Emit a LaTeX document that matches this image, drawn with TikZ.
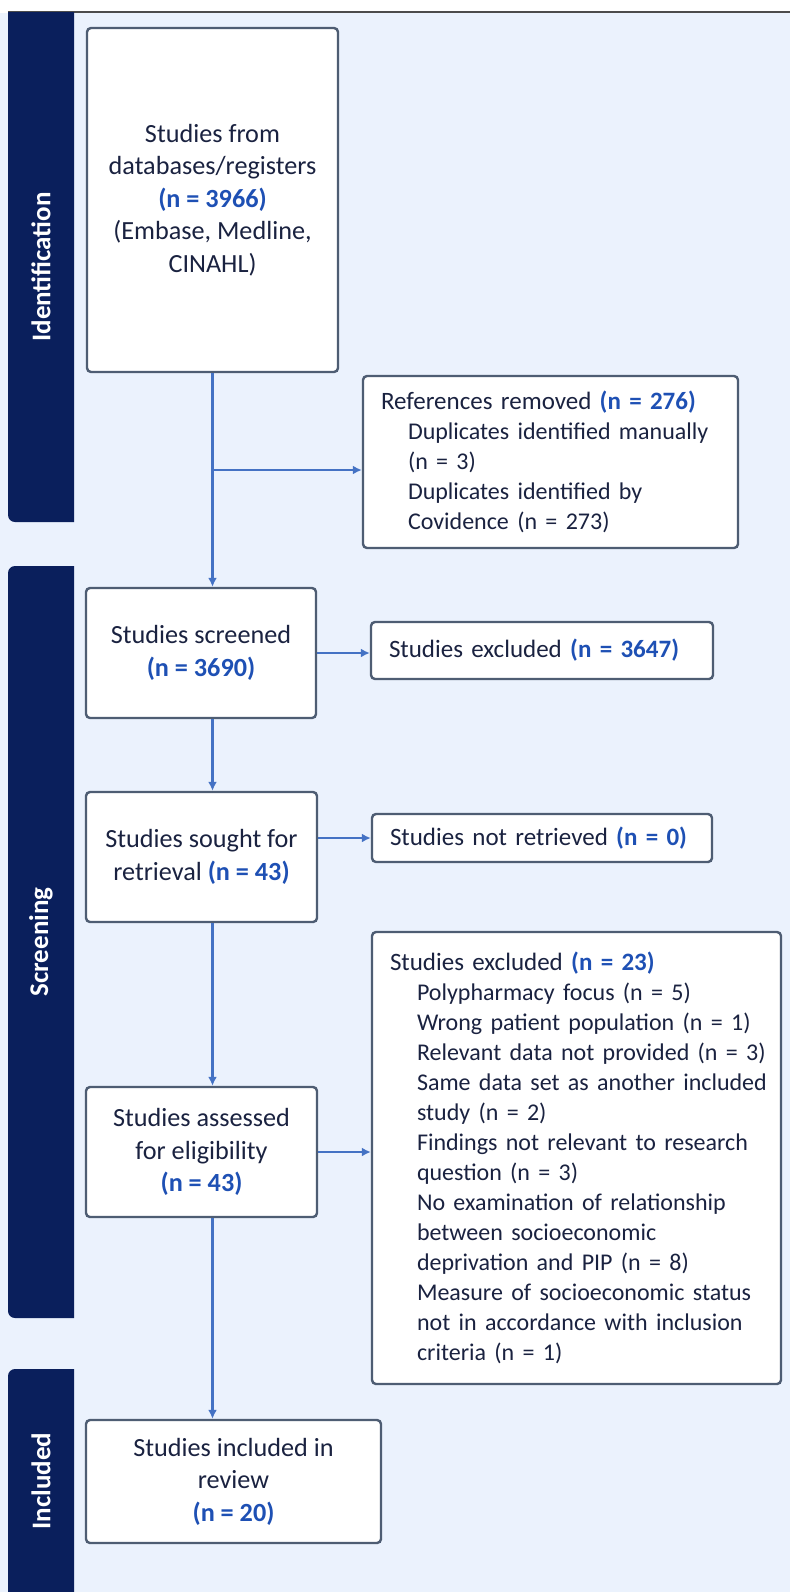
\documentclass[tikz,border=0pt]{standalone}
\usepackage{fontspec}
\setmainfont{Carlito}
\usetikzlibrary{arrows.meta}
\definecolor{barnavy}{RGB}{10,31,92}
\definecolor{bgblue}{RGB}{235,242,253}
\definecolor{boxline}{RGB}{78,93,115}
\definecolor{arrowblue}{RGB}{68,114,196}
\definecolor{numblue}{RGB}{30,80,180}
\definecolor{txtnavy}{RGB}{26,34,64}
\newcommand{\nval}[1]{\textbf{\textcolor{numblue}{#1}}}
\newcommand{\ind}[1]{\hspace*{27pt}\mbox{\fontsize{24}{30}\selectfont #1}}

\begin{document}
\begin{tikzpicture}[x=1pt,y=-1pt,
    box/.style={draw=boxline, fill=white, line width=2.4pt, rounded corners=4pt, text=txtnavy,
      inner sep=0pt, align=center, font=\fontsize{26.2}{32.5}\selectfont},
    listbox/.style={box, align=left, inner xsep=18pt, font=\fontsize{25}{30}\selectfont},
    arr/.style={draw=arrowblue, line width=2.4pt, -{Latex[length=9pt,width=9pt]}},
    stage/.style={text=white, font=\fontsize{27}{30}\selectfont\bfseries, rotate=90}]
  \useasboundingbox (0,0) rectangle (790,1592);
  \fill[white] (0,0) rectangle (790,1592);
  \fill[bgblue] (0,13) rectangle (790,1592);
  \draw[line width=2pt, black!70] (8,12) -- (790,12);
  % stage bars
  \begin{scope}
    \clip (0,13) rectangle (74,1592);
    \fill[barnavy, rounded corners=7pt] (8,0) rectangle (90,522);
    \fill[barnavy, rounded corners=7pt] (8,566) rectangle (90,1318);
    \fill[barnavy, rounded corners=7pt] (8,1369) rectangle (90,1620);
  \end{scope}
  \node[stage] (lblid) at (41,267) {Identification};
  \node[stage] (lblscr) at (41,942) {Screening};
  \node[stage] (lblinc) at (41,1481) {Included};
  % boxes
  \node[box, minimum width=251pt, minimum height=344pt] (src) at (212.5,200)
    {Studies from\\databases/registers\\\nval{(n = 3966)}\\(Embase, Medline,\\CINAHL)};
  \node[listbox, text width=339pt, minimum height=172pt] (rem) at (550.5,462)
    {References removed \nval{(n = 276)}\\
     \ind{Duplicates identified manually}\\
     \ind{(n = 3)}\\
     \ind{Duplicates identified by}\\
     \ind{Covidence (n = 273)}};
  \node[listbox, text width=306pt, minimum height=57pt] (exa) at (542,650.5)
    {Studies excluded \nval{(n = 3647)}};
  \node[box, minimum width=230pt, minimum height=130pt] (scr) at (201,653)
    {Studies screened\\\nval{(n = 3690)}};
  \node[box, minimum width=231pt, minimum height=130pt] (sought) at (201.5,857)
    {Studies sought for\\retrieval \nval{(n = 43)}};
  \node[listbox, text width=304pt, minimum height=48pt] (notret) at (542,838)
    {Studies not retrieved \nval{(n = 0)}};
  \node[box, minimum width=231pt, minimum height=130pt] (elig) at (201.5,1152)
    {Studies assessed\\for eligibility\\\nval{(n = 43)}};
  \node[listbox, text width=373pt, minimum height=452pt] (exb) at (576.5,1158)
    {Studies excluded \nval{(n = 23)}\\
     \ind{Polypharmacy focus (n = 5)}\\
     \ind{Wrong patient population (n = 1)}\\
     \ind{Relevant data not provided (n = 3)}\\
     \ind{Same data set as another included}\\
     \ind{study (n = 2)}\\
     \ind{Findings not relevant to research}\\
     \ind{question (n = 3)}\\
     \ind{No examination of relationship}\\
     \ind{between socioeconomic}\\
     \ind{deprivation and PIP (n = 8)}\\
     \ind{Measure of socioeconomic status}\\
     \ind{not in accordance with inclusion}\\
     \ind{criteria (n = 1)}};
  \node[box, minimum width=295pt, minimum height=123pt] (incl) at (233.5,1481.5)
    {Studies included in\\review\\\nval{(n = 20)}};
  % connectors
  \coordinate (fork) at (212.5,470);
  \draw[arr] (src.south) -- (src.south |- scr.north);
  \draw[arr] (fork) -- (fork -| rem.west);
  \draw[arr] (scr.east) -- (scr.east -| exa.west);
  \draw[arr] (scr.south -| src.south) -- (sought.north -| src.south);
  \draw[arr] (sought.east |- notret.west) -- (notret.west);
  \draw[arr] (sought.south -| src.south) -- (elig.north -| src.south);
  \draw[arr] (elig.east) -- (elig.east -| exb.west);
  \draw[arr] (elig.south -| src.south) -- (incl.north -| src.south);
\end{tikzpicture}
\end{document}
